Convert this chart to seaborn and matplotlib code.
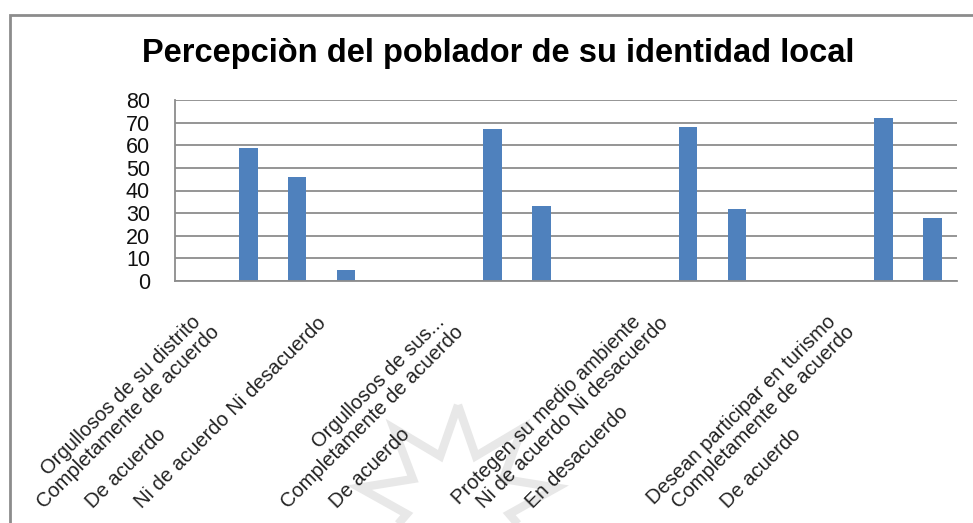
import numpy as np
import pandas as pd
import seaborn as sns
import matplotlib.pyplot as plt
import matplotlib.transforms as mtransforms
from matplotlib.patches import Rectangle, Polygon

# categorias del eje x (las vacias no tienen etiqueta en el grafico original)
categorias = [
    "Orgullosos de su distrito", "Completamente de acuerdo", "De acuerdo",
    "Ni de acuerdo Ni desacuerdo", "",
    "Orgullosos de sus...", "Completamente de acuerdo", "De acuerdo", "",
    "Protegen su medio ambiente", "Ni de acuerdo Ni desacuerdo", "En desacuerdo", "",
    "Desean participar en turismo", "Completamente de acuerdo", "De acuerdo",
]
valores = [np.nan, 59, 46, 5, np.nan,
           np.nan, 67, 33, np.nan,
           np.nan, 68, 32, np.nan,
           np.nan, 72, 28]
y_ticks = [0, 10, 20, 30, 40, 50, 60, 70, 80]

titulo = "Percepciòn del poblador de su identidad local"

df = pd.DataFrame({"pos": list(range(len(categorias))), "valor": valores})

sns.set_style("white")
plt.rcParams['font.family'] = ['Liberation Sans', 'DejaVu Sans']

W, H = 973, 523
fig = plt.figure(figsize=(W / 100, H / 100), dpi=100)

# marca de agua (estrella gris claro detras de las etiquetas)
cx, cy, R, r = 458, 505, 100, 52
ang = np.deg2rad(90 + np.arange(18) * 20)
rad = np.where(np.arange(18) % 2 == 0, R, r)
star = np.column_stack([(cx + rad * np.cos(ang)) / W, 1 - (cy - rad * np.sin(ang)) / H])
fig.patches.append(Polygon(star, closed=True, fill=False, edgecolor="#e8e8e8",
                           linewidth=6, joinstyle="miter", transform=fig.transFigure, zorder=0))

ax = fig.add_axes([175 / W, 1 - 281 / H, (957 - 175) / W, (281 - 100) / H])
ax.patch.set_alpha(0)
ax.set_zorder(3)

sns.barplot(data=df, x="pos", y="valor", order=list(range(len(categorias))),
            color="#4F81BD", saturation=1, width=0.38, linewidth=0, ax=ax)

ax.set_ylim(0, 80)
ax.set_xlim(-0.5, len(categorias) - 0.5)
ax.set_yticks(y_ticks)
ax.set_yticklabels([str(v) for v in y_ticks], fontsize=15.5, color="#111111")
ax.yaxis.grid(True, color="#8c8c8c", linewidth=1.3)
ax.set_axisbelow(True)
ax.set_xlabel("")
ax.set_ylabel("")
for s in ["top", "right"]:
    ax.spines[s].set_visible(False)
for s in ["left", "bottom"]:
    ax.spines[s].set_color("#8c8c8c")
    ax.spines[s].set_linewidth(1.3)
ax.tick_params(axis="y", length=0, pad=18)
ax.tick_params(axis="x", length=0, pad=0)

ax.set_xticks(range(len(categorias)))
ax.set_xticklabels(categorias, fontsize=14.5, color="#222222")
# etiquetas giradas 45 grados; las de respuesta empiezan abajo, los titulos de grupo
# (categorias sin valor) terminan junto al eje
off_resp = mtransforms.ScaledTranslation((16 - 224) / 100, -224 / 100, fig.dpi_scale_trans)
off_head = mtransforms.ScaledTranslation(-2 / 100, -38 / 100, fig.dpi_scale_trans)
for lab, v in zip(ax.get_xticklabels(), valores):
    lab.set_rotation(45)
    lab.set_rotation_mode("anchor")
    lab.set_va("center")
    if np.isnan(v):
        lab.set_ha("right")
        lab.set_transform(lab.get_transform() + off_head)
    else:
        lab.set_ha("left")
        lab.set_transform(lab.get_transform() + off_resp)

fig.text(498 / W, 1 - 62 / H, titulo, ha="center", va="baseline",
         fontsize=23.5, fontweight="bold", color="#000000")

# borde exterior del grafico
fig.patches.append(Rectangle((10 / W, -0.1), 1.2, 1.1 - 15 / H, transform=fig.transFigure,
                             fill=False, edgecolor="#8c8c8c", linewidth=2))

fig.savefig("out.png", dpi=100)
